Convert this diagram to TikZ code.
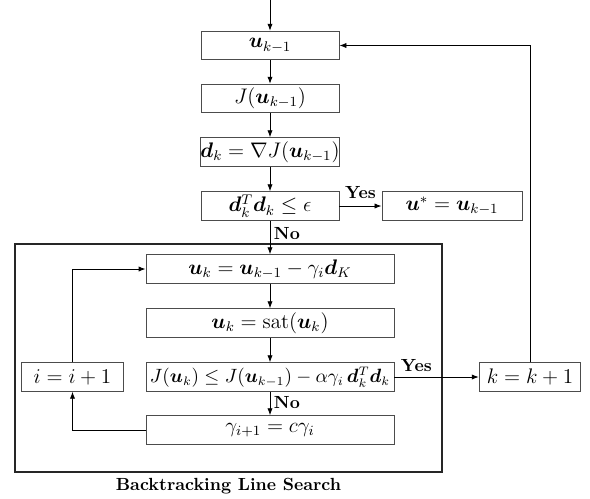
\documentclass[tikz,border=0pt]{standalone}
\usepackage{amsmath,amssymb,bm}
\usetikzlibrary{arrows.meta}
\begin{document}
\begin{tikzpicture}[x=0.02cm,y=-0.02cm,>={Latex[length=4pt,width=3pt]},line width=0.5pt,
  blk/.style={draw=black!70,inner sep=0pt,minimum height=0.57cm,font=\large},
  topblk/.style={blk,minimum width=2.76cm},
  inblk/.style={blk,minimum width=4.96cm},
  smblk/.style={blk,minimum width=2.03cm},
  lbl/.style={font=\bfseries,inner sep=2pt}]
\useasboundingbox (0,0) rectangle (590,498);
% outer loop
\coordinate (start) at (270,0);
\node[topblk] (u1) at (270,45.5) {$\bm{u}_{k-1}$};
\node[topblk] (J) at (270,98.5) {$J(\bm{u}_{k-1})$};
\node[topblk] (d) at (270,152) {$\bm{d}_k=\nabla J(\bm{u}_{k-1})$};
\node[topblk] (chk) at (270,206) {$\bm{d}_k^T\bm{d}_k\le\epsilon$};
\node[blk,minimum width=2.8cm] (opt) at (452,206) {$\bm{u}^{*}=\bm{u}_{k-1}$};
% backtracking line search
\draw[line width=1.3pt,black!85] (15,244) rectangle (442,472);
\node[inblk] (upd) at (270,269) {$\bm{u}_k=\bm{u}_{k-1}-\gamma_i\bm{d}_K$};
\node[inblk] (sat) at (270,323) {$\bm{u}_k=\mathrm{sat}(\bm{u}_k)$};
\node[inblk,font=\fontsize{10.5}{12}\selectfont] (arm) at (270,377) {$J(\bm{u}_k)\le J(\bm{u}_{k-1})-\alpha\gamma_i\,\bm{d}_k^T\bm{d}_k$};
\node[inblk] (red) at (270,430) {$\gamma_{i+1}=c\gamma_i$};
\node[smblk] (inci) at (72.5,377) {$i=i+1$};
\node[smblk] (inck) at (530,377) {$k=k+1$};
\node[font=\bfseries] (cap) at (228.5,486) {Backtracking Line Search};
% connectors
\draw[->] (start) -- (u1);
\draw[->] (u1) -- (J);
\draw[->] (J) -- (d);
\draw[->] (d) -- (chk);
\draw[->] (chk) -- node[lbl,above=2pt,pos=0.5]{Yes} (opt);
\draw[->] (chk) -- node[lbl,right,pos=0.38]{No} (upd);
\draw[->] (upd) -- (sat);
\draw[->] (sat) -- (arm);
\draw[->] (arm) -- node[lbl,right,pos=0.45]{No} (red);
\draw[->] (red.west) -| (inci.south);
\draw[->] (inci.north) |- (upd.west);
\draw[->] (arm.east) -- node[lbl,above=1pt,pos=0.26]{Yes} (inck.west);
\draw[->] (inck.north) |- (u1.east);
\end{tikzpicture}
\end{document}
